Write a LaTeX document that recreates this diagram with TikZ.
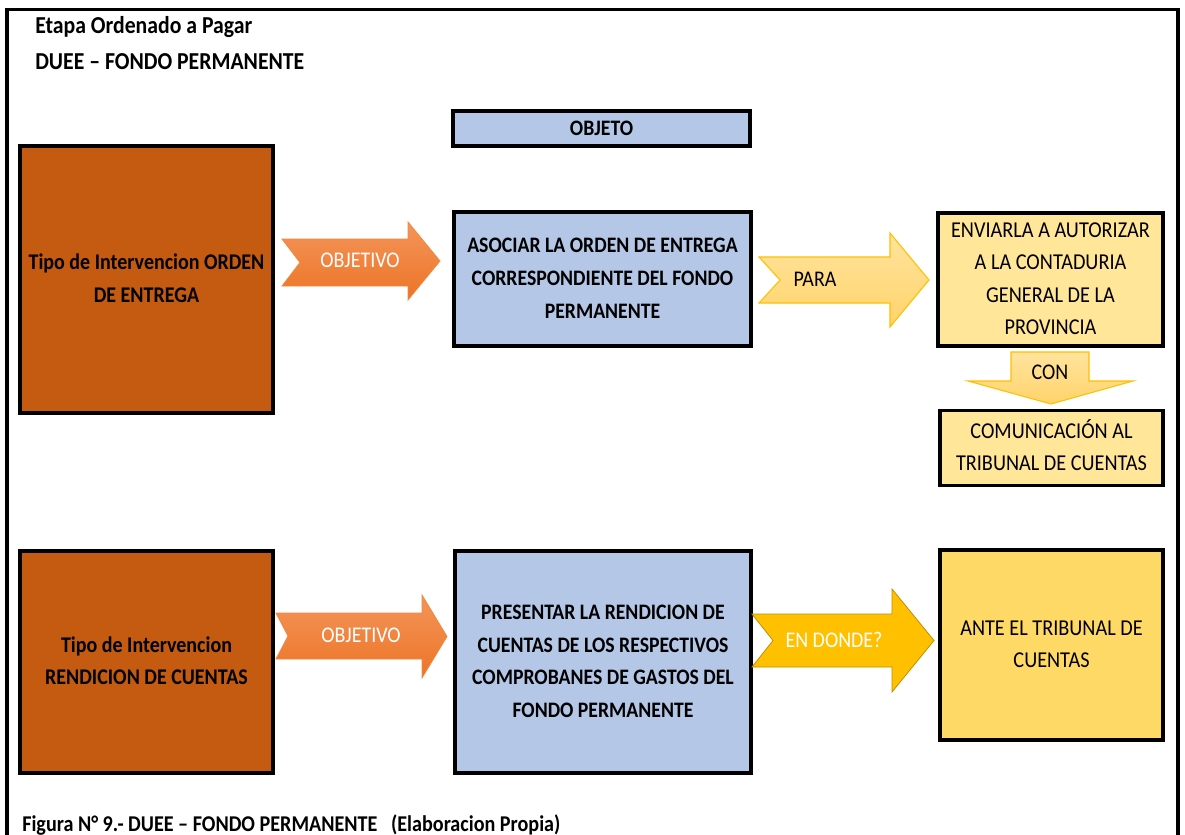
\documentclass[tikz,border=0pt]{standalone}
\usepackage{fontspec}
\setmainfont{Carlito}
\usepackage{graphicx}
\definecolor{boxorange}{HTML}{C55A11}
\definecolor{boxblue}{HTML}{B4C7E7}
\definecolor{boxyellow}{HTML}{FFE699}
\definecolor{boxgold}{HTML}{FFD966}
\definecolor{arrOt}{HTML}{F4955A}
\definecolor{arrOb}{HTML}{EC7426}
\definecolor{arrOd}{HTML}{F08A40}
\definecolor{arrYt}{HTML}{FFE49E}
\definecolor{arrYb}{HTML}{FFD36B}
\definecolor{arrYd}{HTML}{FFC000}
\definecolor{arrG}{HTML}{FFC000}
\definecolor{arrGd}{HTML}{BF9000}
\newcommand{\ml}[2][1.12]{\scalebox{1}[#1]{\begin{tabular}{@{}c@{}}#2\end{tabular}}}
\begin{document}
\begin{tikzpicture}[x=0.75pt,y=-0.75pt,
  box/.style={draw=black, line width=2.6pt, inner sep=0pt, anchor=center,
    font=\fontsize{15.2}{21.8}\selectfont},
  boldbox/.style={box, font=\bfseries\fontsize{14.8}{21.8}\selectfont},
  leftbox/.style={box, fill=boxorange, font=\bfseries\fontsize{15}{21.8}\selectfont},
  arrowO/.style={draw=arrOd, line width=0.6pt, top color=arrOt, bottom color=arrOb, line join=miter},
  arrowY/.style={draw=arrYd, line width=0.8pt, top color=arrYt, bottom color=arrYb, line join=miter},
  arrowG/.style={draw=arrGd, line width=0.6pt, fill=arrG, line join=miter},
  arrtxt/.style={inner sep=0pt, font=\fontsize{15}{20}\selectfont},
  ttl/.style={anchor=west, inner sep=0pt, font=\bfseries\fontsize{16.3}{20}\selectfont},
]
\useasboundingbox (0,0) rectangle (1185,835);
\fill[white] (0,0) rectangle (1185,835);
% frame
\draw[line width=2.3pt, line join=miter] (7,835) -- (7,9.5) -- (1178,9.5) -- (1178,835);

% titles
\node[ttl] (t1) at (35,27) {\scalebox{1}[1.12]{Etapa Ordenado a Pagar}};
\node[ttl] (t2) at (35,62) {\scalebox{1}[1.12]{DUEE – FONDO PERMANENTE}};
\node[ttl, font=\bfseries\fontsize{15.1}{18}\selectfont] (cap) at (22,825) {\scalebox{1}[1.12]{Figura N° 9.- DUEE – FONDO PERMANENTE~~~(Elaboracion Propia)}};

% boxes
\node[leftbox, minimum width=189.75pt, minimum height=200.25pt] (L1) at (146.5,279.5)
  {\ml{Tipo de Intervencion ORDEN\\DE ENTREGA}};
\node[boldbox, fill=boxblue, minimum width=222.75pt, minimum height=26.25pt, line width=2.3pt] (obj) at (601.5,128.5)
  {\ml{OBJETO}};
\node[boldbox, fill=boxblue, minimum width=222.75pt, minimum height=100.5pt] (B1) at (602.5,279)
  {\ml{ASOCIAR LA ORDEN DE ENTREGA\\CORRESPONDIENTE DEL FONDO\\PERMANENTE}};
\node[box, fill=boxyellow, minimum width=168.75pt, minimum height=99.75pt] (Y1) at (1050.5,279.5)
  {\ml{ENVIARLA A AUTORIZAR\\A LA CONTADURIA\\GENERAL DE LA\\PROVINCIA}};
\node[box, fill=boxyellow, minimum width=167.25pt, minimum height=56.25pt] (Y2) at (1051.5,448)
  {\ml{COMUNICACIÓN AL\\TRIBUNAL DE CUENTAS}};
\node[leftbox, minimum width=189.75pt, minimum height=166.5pt] (L2) at (146.5,662)
  {\ml{Tipo de Intervencion\\RENDICION DE CUENTAS}};
\node[boldbox, fill=boxblue, minimum width=222pt, minimum height=166.5pt] (B2) at (603,662)
  {\ml{PRESENTAR LA RENDICION DE\\CUENTAS DE LOS RESPECTIVOS\\COMPROBANES DE GASTOS DEL\\FONDO PERMANENTE}};
\node[box, fill=boxgold, minimum width=167.25pt, minimum height=142.5pt] (Y3) at (1051.5,645)
  {\ml{ANTE EL TRIBUNAL DE\\CUENTAS}};

% block arrows
\path[arrowO] (282,239) -- (408,239) -- (408,222) -- (440,261) -- (408,300) -- (408,286) -- (282,286) -- (300,262.5) -- cycle;
\node[arrtxt, text=white] (a1) at (360,262) {\ml{OBJETIVO}};

\path[arrowY] (759,257) -- (890,257) -- (890,233) -- (929,280) -- (890,327) -- (890,303) -- (759,303) -- (780,280) -- cycle;
\node[arrtxt, text=black] (a2) at (815,281) {\ml{PARA}};

\path[arrowO] (276,613) -- (422,613) -- (422,595) -- (447,636.5) -- (422,678) -- (422,659) -- (276,659) -- (288,636) -- cycle;
\node[arrtxt, text=white] (a3) at (361,637) {\ml{OBJETIVO}};

\path[arrowG] (752,614) -- (892,614) -- (892,589) -- (934,640.5) -- (892,692) -- (892,667) -- (752,667) -- (773,640.5) -- cycle;
\node[arrtxt, text=white] (a4) at (834,642) {\ml{EN DONDE?}};

\path[arrowY] (1011,352) -- (1089,352) -- (1089,381) -- (1133,381) -- (1051,404) -- (968,381) -- (1011,381) -- cycle;
\node[arrtxt, text=black] (a5) at (1050,374) {\ml{CON}};
\end{tikzpicture}
\end{document}
